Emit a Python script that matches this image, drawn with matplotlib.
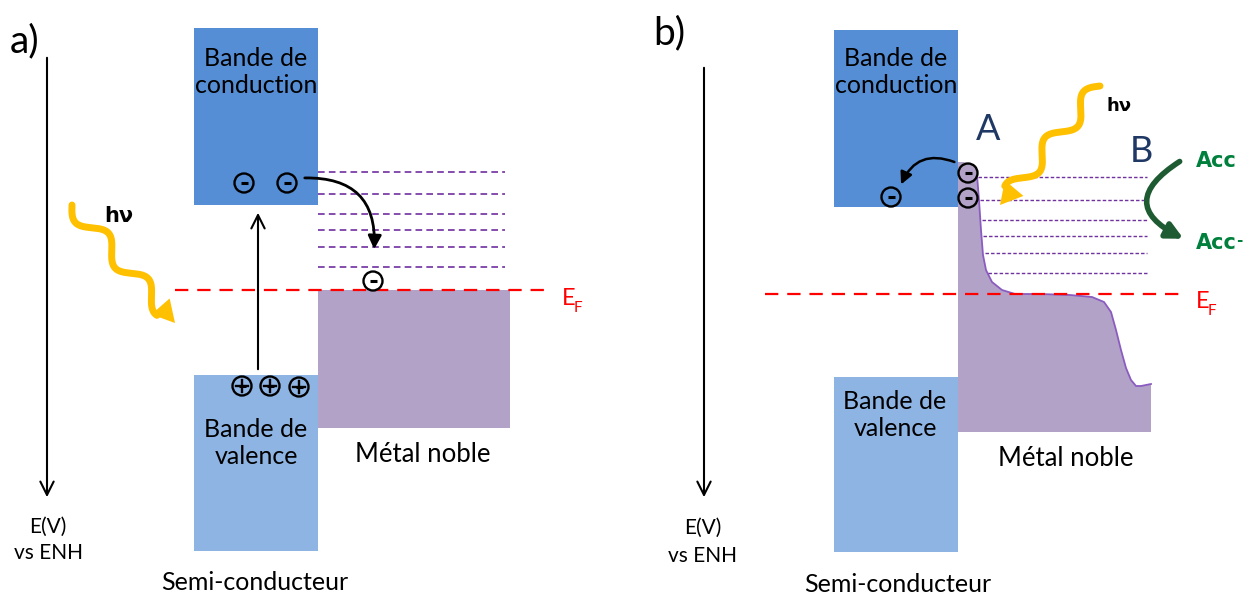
import numpy as np
import matplotlib
matplotlib.use("Agg")
import matplotlib.pyplot as plt
from matplotlib.patches import Rectangle, Circle, Polygon, FancyArrowPatch

plt.rcParams['font.family'] = ['Lato', 'DejaVu Sans']

# colours
C_CB = '#558ED5'
C_VB = '#8EB4E3'
C_MET = '#B3A2C7'
C_LVL = '#7030A0'
C_RED = '#FF0000'
C_HV = '#FFC000'
C_AB = '#1F3864'
C_ACC = '#00803C'

# panel a geometry (pixels)
a_cb = (194, 28, 124, 177)
a_vb = (194, 375, 124, 176)
a_met = (318, 290, 192, 138)
a_levels = [172, 194, 214, 230, 247, 267]
a_ef = 290
a_minus = [(244, 183), (287, 183), (373, 281)]
a_plus = [(242, 386), (270, 386), (299, 387)]

# panel b geometry
b_cb = (834, 30, 124, 177)
b_vb = (834, 377, 124, 175)
b_levels = [177, 200, 220, 236, 253, 273]
b_level_x0 = [978, 980, 982, 983, 985, 988]
b_ef = 294
b_minus_full = [(968, 173), (968, 198)]
b_minus_empty = [(891, 197)]
# outline of the metal density of states (top edge), left to right
b_met_x = [958, 964, 972, 977, 979, 981, 983, 986, 992, 1002, 1015, 1040, 1070, 1092, 1104, 1111,
           1116, 1121, 1126, 1131, 1136, 1141, 1146, 1151]
b_met_y = [162, 162, 166, 175, 200, 230, 255, 270, 282, 290, 294, 294, 295, 297, 302, 312,
           330, 350, 368, 380, 386, 386, 385, 384]
b_met_bottom = 432

fig = plt.figure(figsize=(12.47, 5.97), dpi=100)
ax = fig.add_axes([0, 0, 1, 1])
ax.set_xlim(0, 1247)
ax.set_ylim(597, 0)
ax.axis('off')

FS = 18
BOLD = ['DejaVu Sans']


def box(r, c):
    ax.add_patch(Rectangle((r[0], r[1]), r[2], r[3], facecolor=c, edgecolor='none'))


def charge(x, y, sign, fc='none'):
    ax.add_patch(Circle((x, y), 9.5, facecolor=fc, edgecolor='black', lw=1.7, zorder=6))
    ax.plot([x - 3.5, x + 3.5], [y, y], color='black', lw=2.2, zorder=7, solid_capstyle='butt')
    if sign == '+':
        ax.plot([x, x], [y - 6, y + 6], color='black', lw=1.7, zorder=7)
        ax.plot([x - 6, x + 6], [y, y], color='black', lw=1.7, zorder=7)


def wavy(p0, p1, nw, amp, head=22):
    p0 = np.array(p0, float)
    p1 = np.array(p1, float)
    d = p1 - p0
    L = np.hypot(*d)
    u = d / L
    nrm = np.array([-u[1], u[0]])
    body = L - head * 0.8
    t = np.linspace(0, 1, 300)
    pts = p0 + np.outer(t * body, u) + np.outer(amp * np.sin(2 * np.pi * nw * t), nrm)
    ax.plot(pts[:, 0], pts[:, 1], color=C_HV, lw=5, solid_capstyle='round', zorder=5)
    base = p1 - u * head
    tri = [p1, base + nrm * head * 0.55, base - nrm * head * 0.55]
    ax.add_patch(Polygon(tri, closed=True, facecolor=C_HV, edgecolor='none', zorder=5))


def ef_label(x, y):
    ax.text(x, y, 'E', color=C_RED, fontsize=17, ha='left', va='baseline')
    ax.text(x + 12, y + 7, 'F', color=C_RED, fontsize=11, ha='left', va='baseline')


# ---------------- panel a ----------------
ax.text(10, 52, 'a)', fontsize=28, va='baseline')
ax.annotate('', xy=(47, 500), xytext=(47, 55),
            arrowprops=dict(arrowstyle='->', lw=1.5, color='black', mutation_scale=24))
ax.text(48, 527, 'E(V)', fontsize=15, ha='center', va='center')
ax.text(48, 553, 'vs ENH', fontsize=15, ha='center', va='center')

box(a_cb, C_CB)
box(a_vb, C_VB)
box(a_met, C_MET)
ax.text(256, 72, 'Bande de\nconduction', fontsize=FS, ha='center', va='center', linespacing=1.25)
ax.text(256, 443, 'Bande de\nvalence', fontsize=FS, ha='center', va='center', linespacing=1.25)
ax.text(423, 455, 'Métal noble', fontsize=FS + 0.5, ha='center', va='center')
ax.text(255, 582, 'Semi-conducteur', fontsize=FS, ha='center', va='center')

for y in a_levels:
    ax.plot([318, 505], [y, y], color=C_LVL, lw=1.2, ls=(0, (4, 2.5)))
ax.plot([175, 545], [a_ef, a_ef], color=C_RED, lw=1.6, ls=(0, (6, 4)), zorder=4)
ef_label(562, 305)

for x, y in a_minus:
    charge(x, y, '-', fc='white' if x > 320 else 'none')
for x, y in a_plus:
    charge(x, y, '+')

ax.annotate('', xy=(258, 210), xytext=(258, 372),
            arrowprops=dict(arrowstyle='->', lw=1.5, color='black', mutation_scale=24))
ax.add_patch(FancyArrowPatch((302, 178), (374, 252), connectionstyle='arc3,rad=-0.55',
                             arrowstyle='-|>', mutation_scale=20, lw=2, color='black', zorder=6))

wavy((72, 205), (175, 323), 2.3, 9)
ax.text(104, 216, 'hν', fontsize=15, family=BOLD, fontweight='bold', va='center')

# ---------------- panel b ----------------
ax.text(653, 44, 'b)', fontsize=28, va='baseline')
ax.annotate('', xy=(704, 500), xytext=(704, 65),
            arrowprops=dict(arrowstyle='->', lw=1.5, color='black', mutation_scale=24))
ax.text(703, 528, 'E(V)', fontsize=15, ha='center', va='center')
ax.text(703, 556, 'vs ENH', fontsize=15, ha='center', va='center')

box(b_cb, C_CB)
box(b_vb, C_VB)
verts = list(zip(b_met_x, b_met_y)) + [(b_met_x[-1], b_met_bottom), (b_met_x[0], b_met_bottom)]
ax.add_patch(Polygon(verts, closed=True, facecolor=C_MET, edgecolor='none', zorder=2))
ax.plot(b_met_x[2:], b_met_y[2:], color='#8A5CC0', lw=1.3, zorder=3)
ax.text(896, 72, 'Bande de\nconduction', fontsize=FS, ha='center', va='center', linespacing=1.25)
ax.text(895, 415, 'Bande de\nvalence', fontsize=FS, ha='center', va='center', linespacing=1.25)
ax.text(1066, 459, 'Métal noble', fontsize=FS + 0.5, ha='center', va='center')
ax.text(898, 585, 'Semi-conducteur', fontsize=FS, ha='center', va='center')

for y, x0 in zip(b_levels, b_level_x0):
    ax.plot([x0, 1147], [y, y], color=C_LVL, lw=1.0, ls=(0, (2.5, 1.5)), zorder=3)
ax.plot([765, 1180], [b_ef, b_ef], color=C_RED, lw=1.6, ls=(0, (6, 4)), zorder=4)
ef_label(1196, 308)

for x, y in b_minus_full:
    charge(x, y, '-', fc=C_MET)
for x, y in b_minus_empty:
    charge(x, y, '-')

ax.add_patch(FancyArrowPatch((957, 163), (900, 187), connectionstyle='arc3,rad=0.5',
                             arrowstyle='-|>', mutation_scale=18, lw=1.8, color='black', zorder=6))

ax.text(988, 130, 'A', fontsize=26, color=C_AB, ha='center', va='center')
ax.text(1141, 152, 'B', fontsize=26, color=C_AB, ha='center', va='center')

wavy((1100, 86), (1000, 205), 2.3, 9)
ax.text(1107, 106, 'hν', fontsize=13, family=BOLD, fontweight='bold', va='center')

ax.add_patch(FancyArrowPatch((1182, 160), (1186, 240), connectionstyle='arc3,rad=0.9',
                             arrowstyle='-|>', mutation_scale=24, lw=4, color='#1E5B32', zorder=6))
ax.text(1196, 161, 'Acc', fontsize=15, family=BOLD, color=C_ACC, fontweight='bold', va='center')
ax.text(1196, 243, 'Acc', fontsize=15, family=BOLD, color=C_ACC, fontweight='bold', va='center')
ax.text(1236, 240, '-', fontsize=11, family=BOLD, color=C_ACC, fontweight='bold', va='center')

fig.savefig('out.png', dpi=100)
